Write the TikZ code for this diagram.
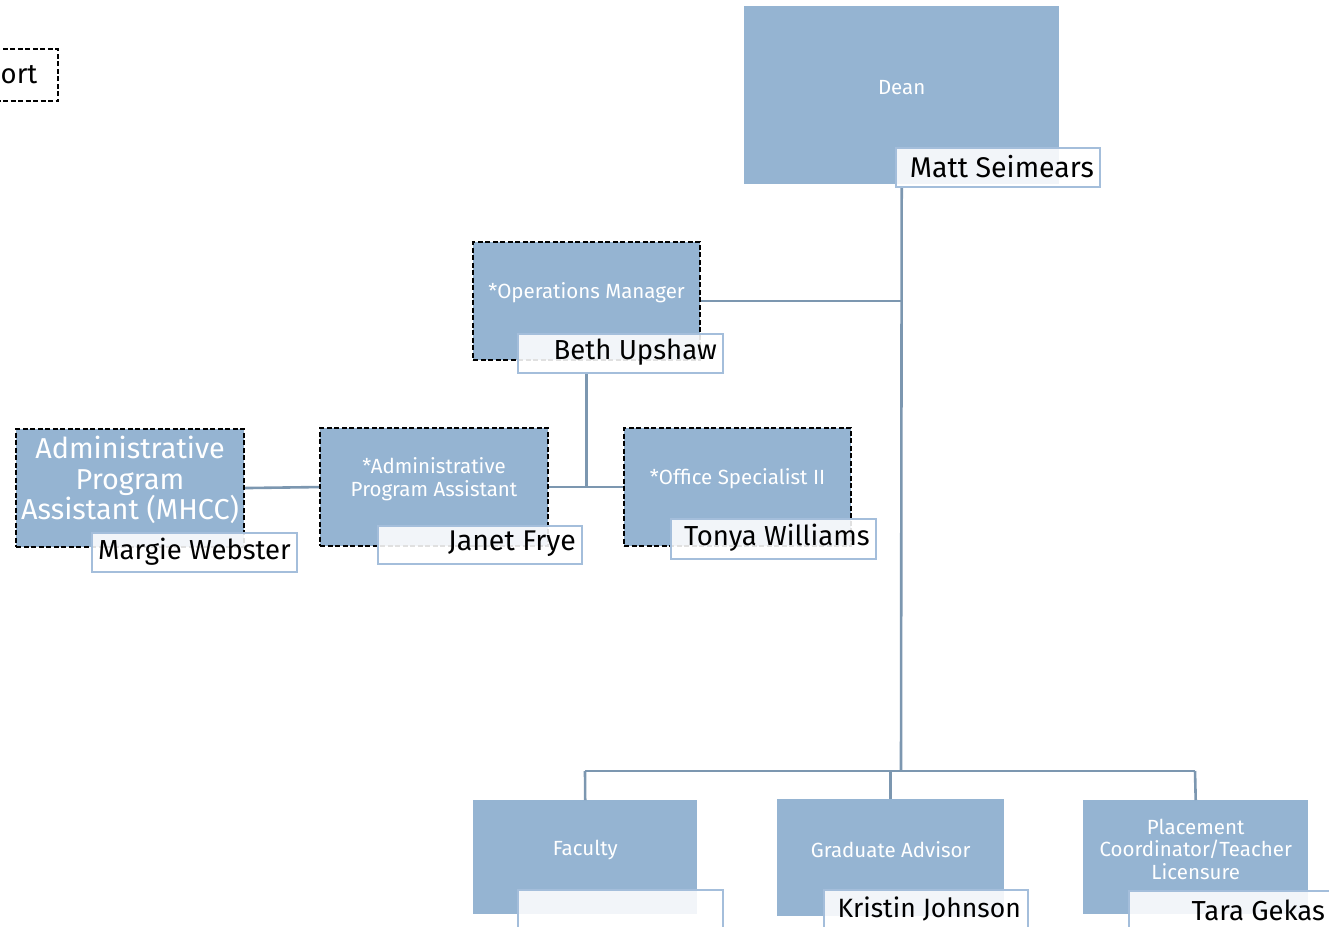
\documentclass[tikz,border=0pt]{standalone}
\usepackage{fontspec}
\setmainfont{Fira Sans}
\definecolor{boxblue}{RGB}{149,180,210}
\definecolor{connc}{RGB}{124,151,176}
\definecolor{nameedge}{RGB}{164,190,219}
\begin{document}
\begin{tikzpicture}[x=1pt,y=-1pt,
  role/.style={fill=boxblue, inner sep=0pt, anchor=north west},
  dashedrole/.style={role, draw=black, line width=2.1pt, dash pattern=on 5pt off 2.5pt},
  roletext/.style={text=white, align=center, inner sep=0pt, font=\fontsize{20.5}{22.5}\selectfont},
  namebox/.style={draw=nameedge, line width=2pt, fill=white, fill opacity=0.88,
     inner sep=0pt, anchor=north west},
  nametext/.style={anchor=east, inner sep=0pt, text=black, font=\fontsize{27.5}{29}\selectfont},
  conn/.style={draw=connc, line width=2.6pt}]
\useasboundingbox (0,0) rectangle (1329,926);
\clip (0,0) rectangle (1329,926);

% connector points
\coordinate (busC) at (901,771);
\coordinate (busL) at (585,771);
\coordinate (busR) at (1195,771);

% boxes
\node[dashedrole, fill=white, minimum width=160, minimum height=52] (sup) at (-103,48) {};
\node[anchor=west, inner sep=0pt, font=\fontsize{27.5}{29}\selectfont] (supT) at (0.5,75) {ort};

\node[role, minimum width=315, minimum height=178] (dean) at (744,6) {};
\node[roletext] (deanT) at ([yshift=8pt]dean.center) {Dean};

\node[dashedrole, minimum width=227, minimum height=118] (ops) at (472,241) {};
\node[roletext] (opsT) at ([yshift=8pt]ops.center) {*Operations Manager};

\node[dashedrole, minimum width=228, minimum height=118] (mhcc) at (15,428) {};
\node[roletext, font=\fontsize{28.8}{30.5}\selectfont] (mhccT) at ([yshift=8pt]mhcc.center) {Administrative\\Program\\Assistant (MHCC)};

\node[dashedrole, minimum width=228, minimum height=118] (apa) at (319,427) {};
\node[roletext] (apaT) at ([yshift=8pt]apa.center) {*Administrative\\Program Assistant};

\node[dashedrole, minimum width=227, minimum height=118] (osp) at (623,427) {};
\node[roletext] (ospT) at ([yshift=8pt]osp.center) {*Office Specialist II};

\node[role, minimum width=224, minimum height=114] (fac) at (473,800) {};
\node[roletext] (facT) at ([yshift=7pt]fac.center) {Faculty};

\node[role, minimum width=227, minimum height=117] (grad) at (777,799) {};
\node[roletext] (gradT) at ([yshift=8pt]grad.center) {Graduate Advisor};

\node[role, minimum width=225, minimum height=114] (plc) at (1083,800) {};
\node[roletext] (plcT) at ([yshift=8pt]plc.center) {Placement\\Coordinator/Teacher\\Licensure};

% connectors
\draw[conn] (dean.center |- 0,186) -- (busC);
\draw[conn] (ops.east) -- (ops.east -| busC);
\draw[conn] (ops.center |- 0,372) -- (ops.center |- apa.east);
\draw[conn] (apa.east) -- (osp.west);
\draw[conn] (mhcc.east) -- (apa.west);
\draw[conn] (busL) -- (busR);
\draw[conn] (busL) -- (fac.north);
\draw[conn] (grad.north |- busL) -- (grad.north);
\draw[conn] (busR) -- (plc.north);

% name boxes
\node[namebox, minimum width=204, minimum height=39] (deanN) at (895,147) {};
\node[nametext, font=\fontsize{28.5}{30}\selectfont] (deanNT) at ([xshift=-7pt,yshift=1pt]deanN.east) {Matt Seimears};
\node[namebox, minimum width=205, minimum height=39] (opsN) at (517,333) {};
\node[nametext] (opsNT) at ([xshift=-7pt,yshift=1pt]opsN.east) {Beth Upshaw};
\node[namebox, minimum width=205, minimum height=39] (mhccN) at (91,532) {};
\node[nametext] (mhccNT) at ([xshift=-7pt,yshift=1pt]mhccN.east) {Margie Webster};
\node[namebox, minimum width=204, minimum height=38] (apaN) at (377,525) {};
\node[nametext, font=\fontsize{28.5}{30}\selectfont] (apaNT) at ([xshift=-7pt,yshift=1pt]apaN.east) {Janet Frye};
\node[namebox, minimum width=205, minimum height=40] (ospN) at (670,518) {};
\node[nametext] (ospNT) at ([xshift=-7pt,yshift=1pt]ospN.east) {Tonya Williams};
\node[namebox, minimum width=205, minimum height=45] (facN) at (517,889) {};
\node[namebox, minimum width=204, minimum height=45] (gradN) at (823,889) {};
\node[namebox, minimum width=205, minimum height=45] (plcN) at (1128,890) {};
\node[nametext, font=\fontsize{26.5}{28}\selectfont] (gradNT) at (1021,909) {Kristin Johnson};
\node[nametext] (plcNT) at (1325,910) {Tara Gekas};
\end{tikzpicture}
\end{document}
